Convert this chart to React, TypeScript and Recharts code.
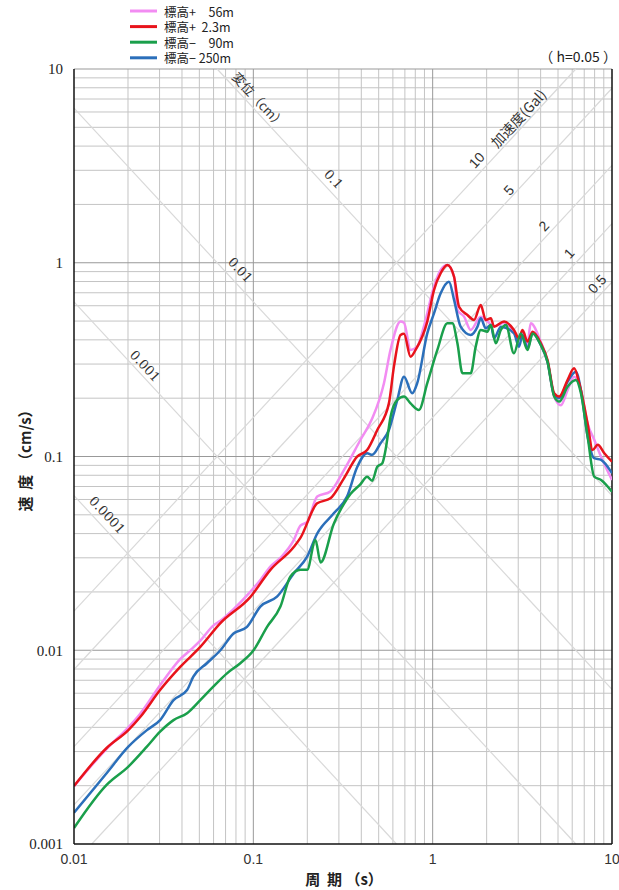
import React from 'react';
import { LineChart, Line, XAxis, YAxis, ReferenceLine, ReferenceDot } from 'recharts';

// period (s) and pseudo-velocity (cm/s), one pair of arrays per observation level
const pinkT = [0.01, 0.0152, 0.0201, 0.0234, 0.0302, 0.0391, 0.045, 0.0506, 0.0598, 0.0655, 0.0776, 0.0961, 0.11, 0.1245, 0.1416, 0.168, 0.183, 0.2, 0.227, 0.269, 0.32, 0.396, 0.46, 0.535, 0.582, 0.662, 0.692, 0.753, 0.82, 0.893, 1.017, 1.108, 1.208, 1.316, 1.374, 1.496, 1.63, 1.854, 2.02, 2.2, 2.5, 2.84, 3.03, 3.17, 3.38, 3.52, 4.01, 4.37, 4.76, 5.19, 5.65, 6.15, 6.71, 7.31, 7.96, 8.69, 10];
const pinkV = [0.00199, 0.0031, 0.004, 0.0047, 0.0066, 0.009, 0.0101, 0.0112, 0.0134, 0.0142, 0.0163, 0.02, 0.0232, 0.027, 0.03, 0.037, 0.044, 0.046, 0.0621, 0.066, 0.085, 0.122, 0.157, 0.239, 0.355, 0.497, 0.49, 0.355, 0.369, 0.468, 0.752, 0.918, 0.973, 0.847, 0.57, 0.527, 0.45, 0.527, 0.497, 0.47, 0.49, 0.44, 0.4, 0.44, 0.38, 0.487, 0.39, 0.31, 0.204, 0.184, 0.22, 0.258, 0.22, 0.148, 0.122, 0.0998, 0.0757];

const redT = [0.01, 0.0152, 0.0201, 0.0234, 0.0302, 0.0391, 0.0506, 0.0655, 0.0961, 0.1245, 0.168, 0.183, 0.227, 0.269, 0.32, 0.379, 0.431, 0.491, 0.57, 0.608, 0.662, 0.692, 0.753, 0.803, 0.933, 1.017, 1.108, 1.208, 1.316, 1.403, 1.563, 1.702, 1.854, 1.977, 2.11, 2.2, 2.5, 2.84, 3.03, 3.17, 3.38, 3.61, 4.01, 4.37, 4.76, 5.08, 5.65, 6.15, 6.56, 7.31, 7.8, 8.32, 9.06, 10];
const redV = [0.00199, 0.00313, 0.00387, 0.00452, 0.00623, 0.0082, 0.0104, 0.0138, 0.0188, 0.026, 0.0341, 0.038, 0.0573, 0.0608, 0.0771, 0.0998, 0.108, 0.137, 0.188, 0.291, 0.424, 0.43, 0.327, 0.355, 0.497, 0.723, 0.883, 0.973, 0.847, 0.593, 0.537, 0.507, 0.605, 0.507, 0.517, 0.468, 0.497, 0.45, 0.408, 0.45, 0.392, 0.441, 0.384, 0.315, 0.212, 0.204, 0.248, 0.285, 0.239, 0.148, 0.108, 0.115, 0.104, 0.094];

const greenT = [0.01, 0.0152, 0.0201, 0.0255, 0.0302, 0.0359, 0.0427, 0.0506, 0.0598, 0.0713, 0.0846, 0.1003, 0.1193, 0.1416, 0.161, 0.183, 0.1995, 0.222, 0.237, 0.281, 0.32, 0.348, 0.396, 0.431, 0.46, 0.491, 0.524, 0.546, 0.582, 0.635, 0.692, 0.753, 0.838, 0.933, 1.062, 1.208, 1.288, 1.374, 1.466, 1.63, 1.738, 1.854, 2.02, 2.11, 2.25, 2.4, 2.56, 2.84, 3.1, 3.38, 3.61, 4.01, 4.37, 4.76, 5.08, 5.65, 6.29, 6.71, 7.31, 7.96, 8.69, 10];
const greenV = [0.00121, 0.00202, 0.00251, 0.00318, 0.0038, 0.00436, 0.00473, 0.00553, 0.00649, 0.0076, 0.00857, 0.01, 0.0132, 0.0168, 0.024, 0.026, 0.026, 0.0371, 0.0284, 0.045, 0.057, 0.064, 0.072, 0.0787, 0.075, 0.0886, 0.0923, 0.108, 0.16, 0.196, 0.204, 0.188, 0.174, 0.239, 0.355, 0.487, 0.487, 0.384, 0.269, 0.269, 0.369, 0.45, 0.441, 0.477, 0.384, 0.45, 0.477, 0.341, 0.432, 0.355, 0.432, 0.376, 0.308, 0.204, 0.192, 0.229, 0.248, 0.212, 0.127, 0.0787, 0.0757, 0.0658];

const blueT = [0.01, 0.0152, 0.0201, 0.0255, 0.0302, 0.0359, 0.0427, 0.0463, 0.0551, 0.0655, 0.0776, 0.0922, 0.1094, 0.1355, 0.168, 0.1995, 0.227, 0.281, 0.333, 0.379, 0.431, 0.46, 0.512, 0.57, 0.635, 0.692, 0.769, 0.82, 0.933, 1.017, 1.108, 1.233, 1.316, 1.432, 1.63, 1.778, 1.854, 1.977, 2.11, 2.2, 2.4, 2.84, 3.03, 3.17, 3.38, 3.61, 4.01, 4.37, 4.76, 5.08, 5.65, 6.29, 6.71, 7.31, 7.96, 8.69, 10];
const blueV = [0.00145, 0.00232, 0.00318, 0.00387, 0.00436, 0.00553, 0.00623, 0.00731, 0.00857, 0.01, 0.0122, 0.0132, 0.0168, 0.0189, 0.0249, 0.0304, 0.04, 0.0509, 0.0621, 0.088, 0.104, 0.102, 0.117, 0.137, 0.196, 0.258, 0.212, 0.239, 0.432, 0.548, 0.695, 0.798, 0.643, 0.468, 0.424, 0.468, 0.517, 0.459, 0.477, 0.408, 0.468, 0.432, 0.369, 0.424, 0.362, 0.432, 0.376, 0.308, 0.208, 0.2, 0.243, 0.274, 0.22, 0.127, 0.098, 0.096, 0.082];

const legendNames = ['標高+　56m', '標高+  2.3m', '標高−　90m', '標高− 250m'];
const legendColors = ['#f28cf2', '#e8131b', '#1a9f4b', '#2b6fba'];

const xTicks = [0.01, 0.1, 1, 10];
const xTickLabels = ['0.01', '0.1', '1', '10'];
const yTicks = [0.001, 0.01, 0.1, 1, 10];
const yTickLabels = ['0.001', '0.01', '0.1', '1', '10'];

// tripartite guide lines
const dispValues = [0.0001, 0.001, 0.01, 0.1];     // cm
const accValues = [0.5, 1, 2, 5, 10];              // Gal
const dispLabels = ['0.0001', '0.001', '0.01', '0.1', '変位（cm）'];
const dispLabelT = [0.0153, 0.0249, 0.0846, 0.28, 0.108];
const dispLabelV = [0.0499, 0.293, 0.918, 2.7, 6.92];
const accLabels = ['10', '5', '2', '1', '0.5', '加速度(Gal)'];
const accLabelT = [1.76, 2.66, 4.17, 5.75, 8.24, 2.99];
const accLabelV = [3.39, 2.37, 1.55, 1.12, 0.777, 5.59];

const T_MIN = 0.01, T_MAX = 10, V_MIN = 0.001, V_MAX = 10;
const TWO_PI = 2 * Math.PI;

const minorsOf = (decades: number[]) =>
  decades.slice(0, -1).flatMap((d) => [2, 3, 4, 5, 6, 7, 8, 9].map((k) => +(d * k).toPrecision(6)));

const dispSegment = (d: number) => {
  const t1 = Math.max(T_MIN, (TWO_PI * d) / V_MAX);
  const t2 = Math.min(T_MAX, (TWO_PI * d) / V_MIN);
  return [{ x: t1, y: (TWO_PI * d) / t1 }, { x: t2, y: (TWO_PI * d) / t2 }];
};
const accSegment = (a: number) => {
  const t1 = Math.max(T_MIN, (TWO_PI * V_MIN) / a);
  const t2 = Math.min(T_MAX, (TWO_PI * V_MAX) / a);
  return [{ x: t1, y: (a * t1) / TWO_PI }, { x: t2, y: (a * t2) / TWO_PI }];
};

const toPoints = (ts: number[], vs: number[]) => ts.map((t, i) => ({ t, v: vs[i] }));

const rotLabel = (text: string, angle: number, font: string, size: number) => (props: any) => {
  const vb = props.viewBox || {};
  const cx = (vb.x ?? 0) + (vb.width ?? 0) / 2;
  const cy = (vb.y ?? 0) + (vb.height ?? 0) / 2;
  return (
    <text x={cx} y={cy} transform={`rotate(${angle} ${cx} ${cy})`} textAnchor="middle"
      dominantBaseline="central" fontFamily={font} fontSize={size} fill="#333">
      {text}
    </text>
  );
};

const series = [
  { key: 'pink', data: toPoints(pinkT, pinkV), color: legendColors[0] },
  { key: 'blue', data: toPoints(blueT, blueV), color: legendColors[3] },
  { key: 'red', data: toPoints(redT, redV), color: legendColors[1] },
  { key: 'green', data: toPoints(greenT, greenV), color: legendColors[2] },
];

export default function App() {
  const xMinor = minorsOf(xTicks);
  const yMinor = minorsOf(yTicks);
  return (
    <div style={{ position: 'absolute', left: 0, top: 0, width: 619, height: 890, background: '#fff' }}>
      <LineChart width={619} height={890} margin={{ top: 69, right: 7, bottom: 0, left: 0 }}>
        <XAxis dataKey="t" type="number" scale="log" domain={[T_MIN, T_MAX]} allowDataOverflow
          ticks={xTicks} tickFormatter={(v: number) => xTickLabels[xTicks.indexOf(v)] ?? ''}
          height={46} tickSize={0} tickMargin={10} tickLine={false}
          axisLine={{ stroke: '#111', strokeWidth: 1.5 }}
          tick={{ fontSize: 14, fontFamily: 'Liberation Sans', fill: '#333' }} />
        <YAxis dataKey="v" type="number" scale="log" domain={[V_MIN, V_MAX]} allowDataOverflow
          ticks={yTicks} tickFormatter={(v: number) => yTickLabels[yTicks.indexOf(v)] ?? ''}
          width={74} tickSize={0} tickMargin={11} tickLine={false}
          axisLine={{ stroke: '#111', strokeWidth: 1.5 }}
          tick={{ fontSize: 15, fontFamily: 'Liberation Serif', fill: '#222' }} />

        {xMinor.map((v) => <ReferenceLine key={'xm' + v} x={v} stroke="#c4c4c4" strokeWidth={1} />)}
        {yMinor.map((v) => <ReferenceLine key={'ym' + v} y={v} stroke="#c4c4c4" strokeWidth={1} />)}
        {xTicks.slice(1, -1).map((v) => <ReferenceLine key={'xM' + v} x={v} stroke="#999" strokeWidth={1} />)}
        {yTicks.slice(1).map((v) => <ReferenceLine key={'yM' + v} y={v} stroke="#999" strokeWidth={1.2} />)}
        {dispValues.map((d) => (
          <ReferenceLine key={'d' + d} segment={dispSegment(d)} stroke="#d9d9d9" strokeWidth={1.2} ifOverflow="visible" />
        ))}
        {accValues.map((a) => (
          <ReferenceLine key={'a' + a} segment={accSegment(a)} stroke="#d9d9d9" strokeWidth={1.2} ifOverflow="visible" />
        ))}
        <ReferenceLine x={T_MAX} stroke="#111" strokeWidth={1.5} />

        {series.map((s) => (
          <Line key={s.key} data={s.data} dataKey="v" type="monotone" stroke={s.color}
            strokeWidth={2.5} dot={false} activeDot={false} isAnimationActive={false} />
        ))}

        {dispLabels.map((txt, i) => (
          <ReferenceDot key={'dl' + i} x={dispLabelT[i]} y={dispLabelV[i]} r={0} fill="none" stroke="none"
            ifOverflow="visible"
            label={rotLabel(txt, 47, i === 4 ? 'Noto Sans CJK JP' : 'DejaVu Serif', 13)} />
        ))}
        {accLabels.map((txt, i) => (
          <ReferenceDot key={'al' + i} x={accLabelT[i]} y={accLabelV[i]} r={0} fill="none" stroke="none"
            ifOverflow="visible"
            label={rotLabel(txt, -47, i === 5 ? 'Noto Sans CJK JP' : 'Liberation Sans', 14)} />
        ))}
      </LineChart>

      <svg width={619} height={890} style={{ position: 'absolute', left: 0, top: 0, pointerEvents: 'none' }}>
        {legendNames.map((name, i) => {
          const y = 11 + i * 15.6;
          return (
            <g key={name}>
              <line x1={130} x2={157} y1={y} y2={y} stroke={legendColors[i]} strokeWidth={3} />
              <text x={164} y={y} dominantBaseline="central" fontFamily="Noto Sans CJK JP" fontSize={12.5}
                fill="#222" style={{ whiteSpace: 'pre' }}>{name}</text>
            </g>
          );
        })}
        <text x={617} y={56} textAnchor="end" dominantBaseline="central" fontFamily="Noto Sans CJK JP"
          fontSize={14} fill="#222" style={{ whiteSpace: 'pre' }}>（ h=0.05 ）</text>
        <text x={344} y={878} textAnchor="middle" dominantBaseline="central" fontFamily="Noto Sans CJK JP"
          fontSize={15} fontWeight="bold" fill="#222" style={{ whiteSpace: 'pre' }}>周  期 （s）</text>
        <text x={24} y={457} textAnchor="middle" dominantBaseline="central" transform="rotate(-90 24 457)"
          fontFamily="Noto Sans CJK JP" fontSize={15} fontWeight="bold" fill="#222"
          style={{ whiteSpace: 'pre' }}>速  度  （cm/s）</text>
      </svg>
    </div>
  );
}
